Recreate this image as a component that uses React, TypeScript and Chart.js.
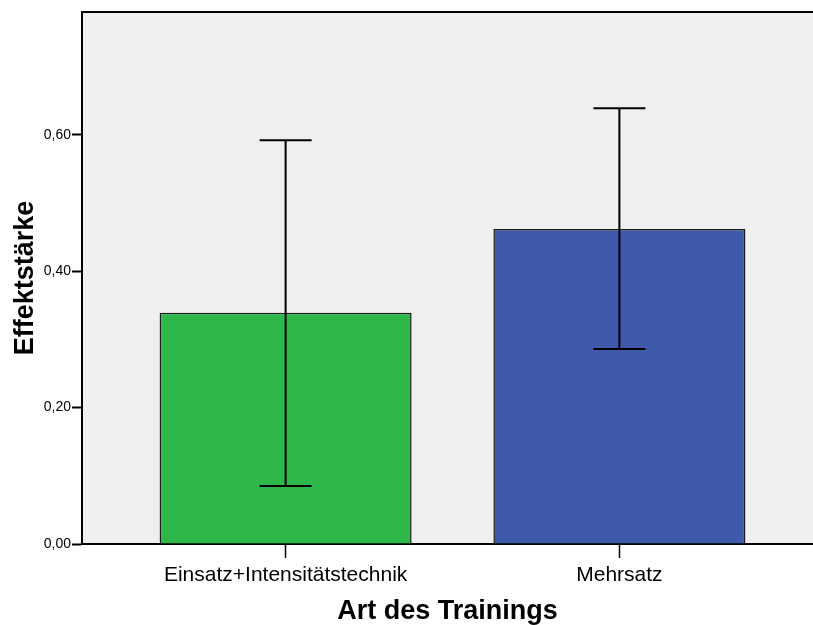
import React, { useEffect, useRef } from "react";
import { Chart, registerables } from "chart.js";

Chart.register(...registerables);

const categories = ["Einsatz+Intensitätstechnik", "Mehrsatz"];
const means = [0.339, 0.462];
const ciLow = [0.085, 0.286];
const ciHigh = [0.592, 0.639];
const barColors = ["#2fb84a", "#3f5aaa"];
const yTicks = [0, 0.2, 0.4, 0.6];

const FONT = "'Liberation Sans', Arial, sans-serif";

const bgPlugin = {
  id: "bgPlugin",
  beforeDraw(chart: any) {
    const { ctx, chartArea } = chart;
    ctx.save();
    ctx.fillStyle = "#efefef";
    ctx.fillRect(chartArea.left, chartArea.top, chartArea.right - chartArea.left, chartArea.bottom - chartArea.top);
    ctx.restore();
  },
  afterDraw(chart: any) {
    const { ctx, chartArea } = chart;
    ctx.save();
    ctx.strokeStyle = "#000";
    ctx.lineWidth = 2;
    ctx.beginPath();
    ctx.moveTo(chartArea.left, chartArea.top);
    ctx.lineTo(chartArea.right, chartArea.top);
    ctx.stroke();
    ctx.restore();
  },
};

const errorBarPlugin = {
  id: "errorBarPlugin",
  afterDatasetsDraw(chart: any) {
    const { ctx } = chart;
    const xs = chart.scales.x;
    const ys = chart.scales.y;
    ctx.save();
    ctx.strokeStyle = "#000";
    ctx.lineWidth = 2;
    for (let i = 0; i < means.length; i++) {
      const x = xs.getPixelForValue(i);
      const yl = ys.getPixelForValue(ciLow[i]);
      const yh = ys.getPixelForValue(ciHigh[i]);
      const half = 26;
      ctx.beginPath();
      ctx.moveTo(x, yl);
      ctx.lineTo(x, yh);
      ctx.moveTo(x - half, yl);
      ctx.lineTo(x + half, yl);
      ctx.moveTo(x - half, yh);
      ctx.lineTo(x + half, yh);
      ctx.stroke();
    }
    ctx.restore();
  },
};

export default function App() {
  const ref = useRef<HTMLCanvasElement | null>(null);
  useEffect(() => {
    if (!ref.current) return;
    const chart = new Chart(ref.current, {
      type: "bar",
      data: {
        datasets: [
          {
            data: means.map((v, i) => ({ x: i, y: v })),
            backgroundColor: barColors,
            borderColor: "#1a1a1a",
            borderWidth: 1.5,
            barPercentage: 0.755,
            categoryPercentage: 1,
          },
        ],
      },
      options: {
        animation: false,
        responsive: true,
        maintainAspectRatio: false,
        layout: { padding: { top: 12, left: 0, right: 0, bottom: 0 } },
        plugins: { legend: { display: false }, tooltip: { enabled: false } },
        scales: {
          x: {
            type: "linear",
            min: -0.61,
            max: 1.58,
            offset: false,
            grid: { offset: false, drawOnChartArea: false, drawTicks: true, tickLength: 14, tickWidth: 1.5, tickColor: "#000" },
            border: { display: true, color: "#000", width: 2 },
            afterBuildTicks: (s: any) => {
              s.ticks = categories.map((_, i) => ({ value: i }));
            },
            afterFit: (s: any) => {
              s.height = 81;
            },
            ticks: {
              autoSkip: false,
              maxRotation: 0,
              padding: 5,
              color: "#000",
              font: { family: FONT, size: 21 },
              callback: (v: any) => categories[Math.round(v)] ?? "",
            },
            title: {
              display: true,
              text: "Art des Trainings",
              color: "#000",
              font: { family: FONT, size: 27, weight: "bold", lineHeight: 1 },
              padding: { top: 0, bottom: 0 },
            },
          },
          y: {
            type: "linear",
            min: 0,
            max: 0.78,
            grid: { drawOnChartArea: false, drawTicks: true, tickLength: 10, tickWidth: 2, tickColor: "#000" },
            border: { display: true, color: "#000", width: 2 },
            afterBuildTicks: (s: any) => {
              s.ticks = yTicks.map((v) => ({ value: v }));
            },
            afterFit: (s: any) => {
              s.width = 82;
            },
            ticks: {
              padding: 1,
              color: "#000",
              font: { family: FONT, size: 14 },
              callback: (v: any) => Number(v).toFixed(2).replace(".", ","),
            },
            title: {
              display: true,
              text: "Effektstärke",
              color: "#000",
              font: { family: FONT, size: 27, weight: "bold", lineHeight: 1 },
              padding: { top: 12, bottom: 0 },
            },
          },
        },
      },
      plugins: [bgPlugin, errorBarPlugin],
    } as any);
    return () => chart.destroy();
  }, []);
  return (
    <div style={{ position: "absolute", left: 0, top: 0, width: 813, height: 625, background: "#fff" }}>
      <canvas ref={ref} />
    </div>
  );
}
